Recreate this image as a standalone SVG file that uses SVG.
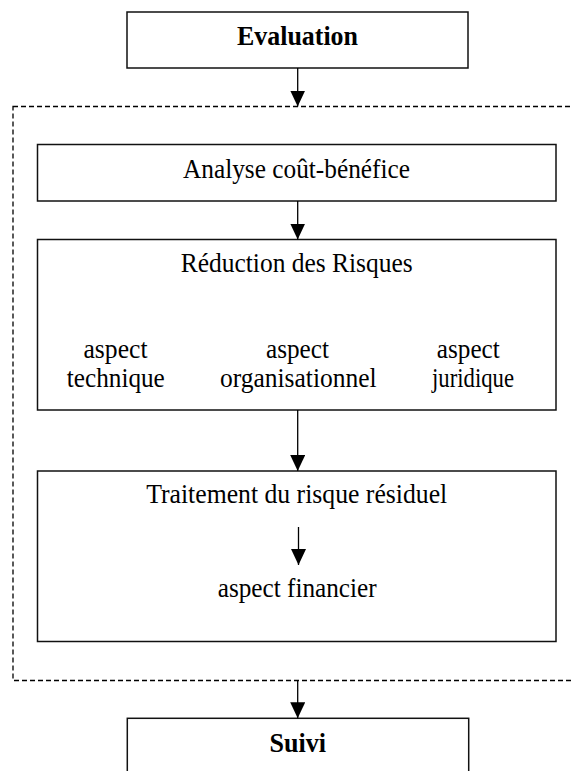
<svg xmlns="http://www.w3.org/2000/svg" width="571" height="771" viewBox="0 0 571 771">
<style>
.box{fill:#fff;stroke:#111;stroke-width:1.5}
.t{font-family:"Liberation Serif","Times New Roman",serif;font-size:27px;fill:#000;text-anchor:middle}
.b{font-weight:bold;font-size:27px}
.c{stroke:#000;stroke-width:1.3;fill:none}
.d{fill:none;stroke:#000;stroke-width:1.3;stroke-dasharray:5,3}
</style>
<defs>
<marker id="ah" markerWidth="16" markerHeight="15" refX="16" refY="7.5" orient="auto" markerUnits="userSpaceOnUse" viewBox="0 0 16 15">
<path d="M0,0 L16,7.5 L0,15 Z" fill="#000"/>
</marker>
</defs>
<rect width="571" height="771" fill="#fff"/>
<g id="group">
<rect class="d" x="13" y="106.5" width="600" height="574"/>
</g>
<g id="evaluation">
<rect class="box" x="127" y="12" width="341" height="56"/>
<text class="t b" x="297.5" y="45" textLength="121" lengthAdjust="spacingAndGlyphs">Evaluation</text>
</g>
<g id="analyse">
<rect class="box" x="37.5" y="144.5" width="518.5" height="56.5"/>
<text class="t" x="296.5" y="178" textLength="227" lengthAdjust="spacingAndGlyphs">Analyse coût-bénéfice</text>
</g>
<g id="reduction">
<rect class="box" x="37.5" y="239.5" width="518.5" height="170.5"/>
<text class="t" x="296.7" y="271.5" textLength="232" lengthAdjust="spacingAndGlyphs">Réduction des Risques</text>
<text class="t" x="115.5" y="358" textLength="64" lengthAdjust="spacingAndGlyphs">aspect</text>
<text class="t" x="115.8" y="386.5" textLength="98" lengthAdjust="spacingAndGlyphs">technique</text>
<text class="t" x="297.5" y="358" textLength="63" lengthAdjust="spacingAndGlyphs">aspect</text>
<text class="t" x="298.3" y="386.5" textLength="156.7" lengthAdjust="spacingAndGlyphs">organisationnel</text>
<text class="t" x="468.3" y="358" textLength="63" lengthAdjust="spacingAndGlyphs">aspect</text>
<text class="t" x="473" y="386.5" textLength="82" lengthAdjust="spacingAndGlyphs">juridique</text>
</g>
<g id="traitement">
<rect class="box" x="37.5" y="471" width="518.5" height="170.5"/>
<text class="t" x="296.7" y="502.5" textLength="301" lengthAdjust="spacingAndGlyphs">Traitement du risque résiduel</text>
<text class="t" x="297.2" y="596.5" textLength="159" lengthAdjust="spacingAndGlyphs">aspect financier</text>
</g>
<g id="suivi">
<rect class="box" x="127.3" y="718.3" width="341.4" height="80"/>
<text class="t b" x="297.7" y="751.5" textLength="56.5" lengthAdjust="spacingAndGlyphs">Suivi</text>
</g>
<g id="connectors">
<line class="c" x1="297.7" y1="68" x2="297.7" y2="106.5" marker-end="url(#ah)"/>
<line class="c" x1="297.7" y1="201" x2="297.7" y2="239.5" marker-end="url(#ah)"/>
<line class="c" x1="297.7" y1="410" x2="297.7" y2="471" marker-end="url(#ah)"/>
<line class="c" x1="298.5" y1="527" x2="298.5" y2="565" marker-end="url(#ah)"/>
<line class="c" x1="297.7" y1="680.5" x2="297.7" y2="718.3" marker-end="url(#ah)"/>
</g>
</svg>
